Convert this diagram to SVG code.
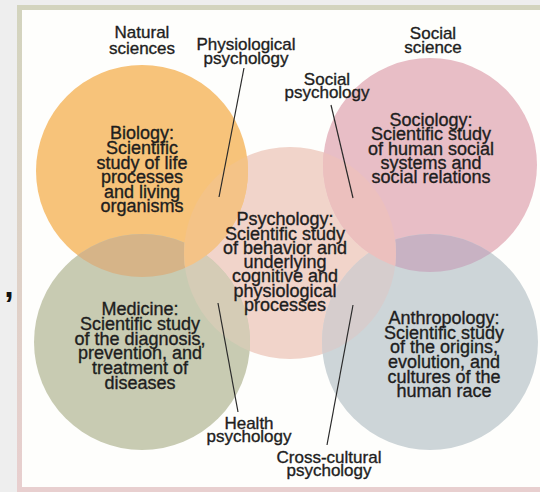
<svg xmlns="http://www.w3.org/2000/svg" width="540" height="492" viewBox="0 0 540 492">
<defs>
<style>
text{font-family:"Liberation Sans",Arial,sans-serif;font-size:18px;fill:#1e1e1e;stroke:#1e1e1e;stroke-width:0.35;text-anchor:middle;}
.lbl{font-size:17px;}
.conn line{stroke:#2a2a2a;stroke-width:1.2;}
</style>
<linearGradient id="frameGrad" x1="0" y1="0" x2="0" y2="1">
<stop offset="0" stop-color="#d3d4be"/>
<stop offset="1" stop-color="#e8cfcf"/>
</linearGradient>
<clipPath id="cO"><circle cx="142" cy="171" r="106"/></clipPath>
<clipPath id="cS"><circle cx="430" cy="165" r="107"/></clipPath>
<clipPath id="cP"><circle cx="290" cy="253" r="106"/></clipPath>
</defs>
<rect x="0" y="0" width="540" height="492" fill="#eeeeee"/>
<rect x="19.5" y="7.5" width="530" height="482" fill="#fefefc" stroke="url(#frameGrad)" stroke-width="5"/>
<text x="9" y="297" style="font-size:34px;font-weight:bold;fill:#111;stroke:none">,</text>

<g id="areas">
<circle id="psychology-area" cx="290" cy="253" r="106" fill="#f1d4ca"/>
<circle id="biology-area" cx="142" cy="171" r="106" fill="#f7c37a"/>
<circle id="sociology-area" cx="430" cy="165" r="107" fill="#e8bec6"/>
<circle id="medicine-area" cx="142" cy="342" r="108" fill="#c8cbb2"/>
<circle id="anthropology-area" cx="430" cy="342" r="108" fill="#cdd5d8"/>
</g>
<g id="overlaps">
<circle cx="142" cy="342" r="108" clip-path="url(#cO)" fill="#d6b488"/>
<circle cx="430" cy="342" r="108" clip-path="url(#cS)" fill="#c8b2c3"/>
<circle cx="142" cy="342" r="108" clip-path="url(#cP)" fill="#d5ccb6"/>
<circle cx="430" cy="342" r="108" clip-path="url(#cP)" fill="#d6cdcd"/>
<circle cx="142" cy="171" r="106" clip-path="url(#cP)" fill="#f4c387"/>
<circle cx="430" cy="165" r="107" clip-path="url(#cP)" fill="#ecc0be"/>
</g>

<g id="connectors" class="conn">
<line x1="244" y1="68" x2="219" y2="197"/>
<line x1="331" y1="105" x2="353" y2="198"/>
<line x1="218" y1="303" x2="238" y2="412"/>
<line x1="353" y1="305" x2="327" y2="445"/>
</g>

<g id="biology">
<text x="142" y="139">Biology:</text>
<text x="142" y="154">Scientific</text>
<text x="142" y="168.5">study of life</text>
<text x="142" y="183">processes</text>
<text x="142" y="197.5">and living</text>
<text x="142" y="212">organisms</text>
</g>
<g id="sociology">
<text x="431" y="126">Sociology:</text>
<text x="431" y="140">Scientific study</text>
<text x="431" y="154.5">of human social</text>
<text x="431" y="168.5">systems and</text>
<text x="431" y="183">social relations</text>
</g>
<g id="psychology">
<text x="285" y="225">Psychology:</text>
<text x="285" y="239.5">Scientific study</text>
<text x="285" y="253.5">of behavior and</text>
<text x="285" y="268">underlying</text>
<text x="285" y="282">cognitive and</text>
<text x="285" y="296.5">physiological</text>
<text x="285" y="311">processes</text>
</g>
<g id="medicine">
<text x="140" y="315">Medicine:</text>
<text x="140" y="330">Scientific study</text>
<text x="140" y="344.5">of the diagnosis,</text>
<text x="140" y="359">prevention, and</text>
<text x="140" y="374">treatment of</text>
<text x="140" y="388.5">diseases</text>
</g>
<g id="anthropology">
<text x="444" y="323.5">Anthropology:</text>
<text x="444" y="338.5">Scientific study</text>
<text x="444" y="353">of the origins,</text>
<text x="444" y="367.5">evolution, and</text>
<text x="444" y="382.5">cultures of the</text>
<text x="444" y="397">human race</text>
</g>
<g id="natural-sciences">
<text class="lbl" x="142" y="38">Natural</text>
<text class="lbl" x="142" y="53.5">sciences</text>
</g>
<g id="social-science">
<text class="lbl" x="433" y="38.5">Social</text>
<text class="lbl" x="433" y="53">science</text>
</g>
<g id="physiological-psychology">
<text class="lbl" x="246" y="49.5">Physiological</text>
<text class="lbl" x="246" y="63.5">psychology</text>
</g>
<g id="social-psychology">
<text class="lbl" x="327" y="84.5">Social</text>
<text class="lbl" x="327" y="97.5">psychology</text>
</g>
<g id="health-psychology">
<text class="lbl" x="249" y="428.5">Health</text>
<text class="lbl" x="249" y="442">psychology</text>
</g>
<g id="cross-cultural-psychology">
<text class="lbl" x="329" y="462.5">Cross-cultural</text>
<text class="lbl" x="329" y="476">psychology</text>
</g>
</svg>
